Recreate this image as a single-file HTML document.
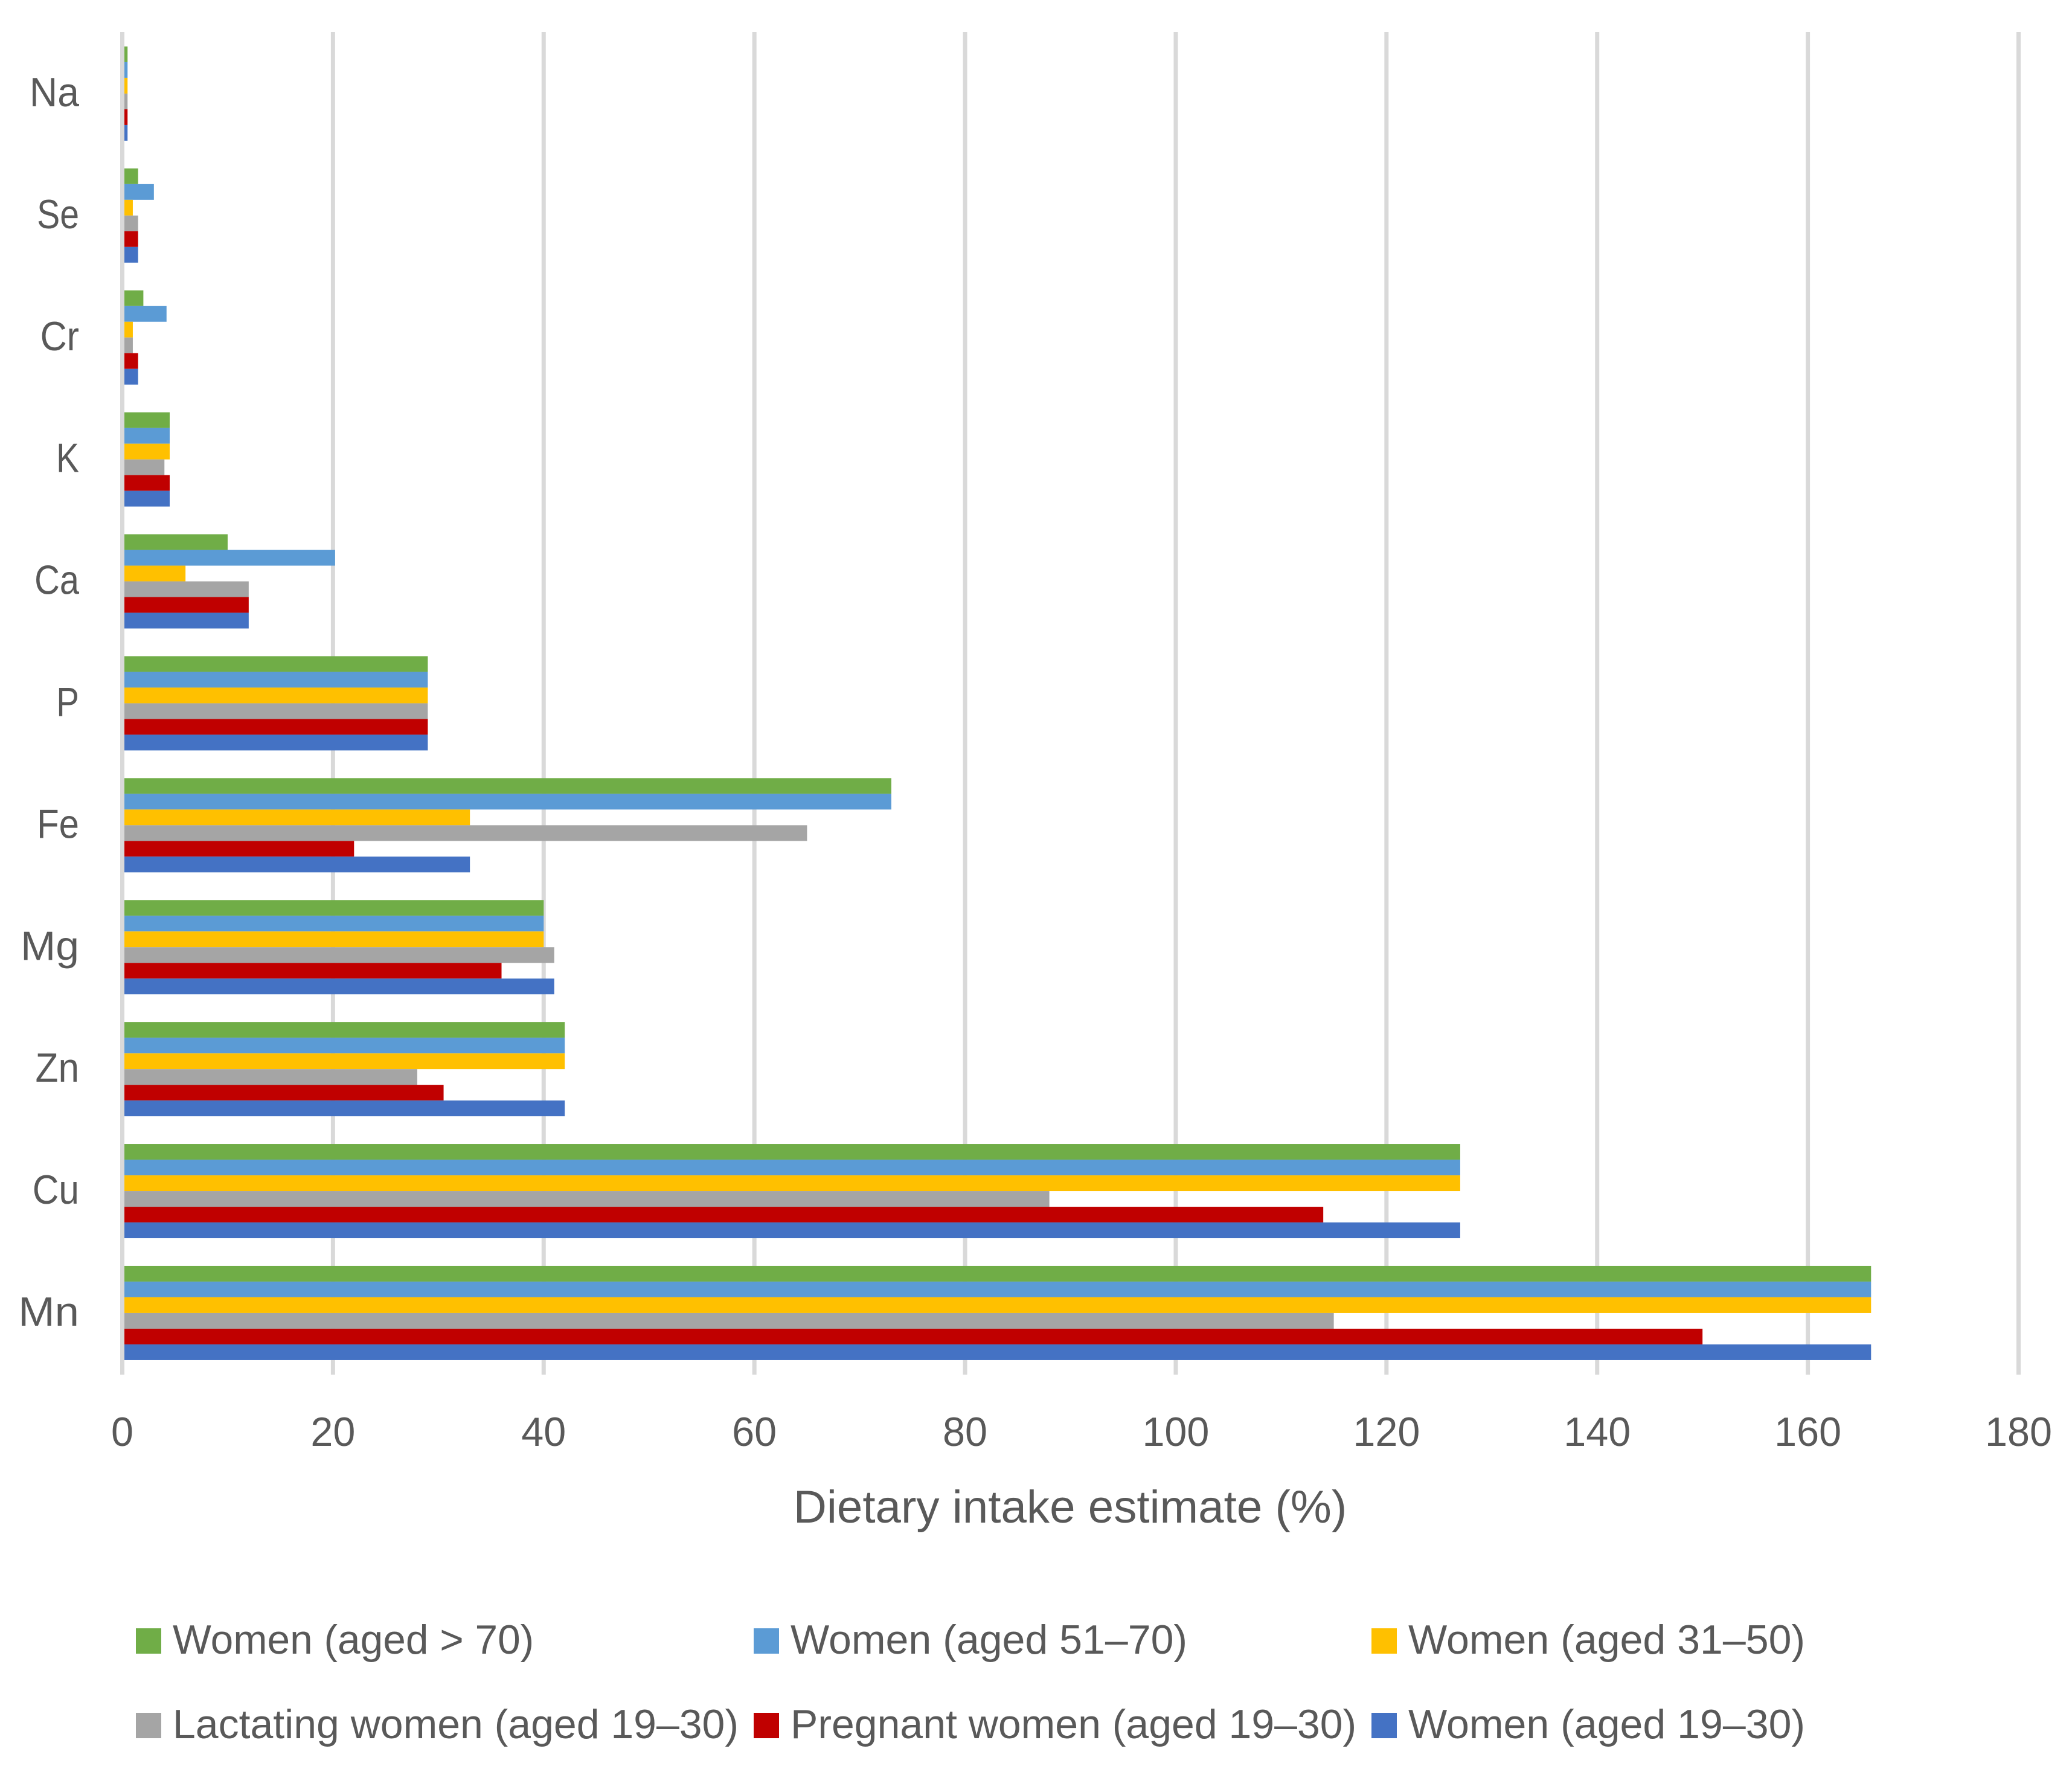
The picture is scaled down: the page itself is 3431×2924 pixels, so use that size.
<!DOCTYPE html>
<html lang="en">
<head>
<meta charset="utf-8">
<title>Dietary intake estimate by mineral</title>
<style>
html,body{margin:0;padding:0;background:#fff;}
svg{display:block;}
text{font-family:"Liberation Sans",sans-serif;fill:#595959;}
</style>
</head>
<body>
<svg id="chart" xmlns="http://www.w3.org/2000/svg" width="3431" height="2924" viewBox="0 0 3431 2924">
  <rect x="0" y="0" width="3431" height="2924" fill="#ffffff"/>
  <g id="grid"></g>
  <g id="bars"></g>
  <g id="yaxis"></g>
  <g id="xaxis"></g>
  <text id="xtitle" x="1772" y="2521" text-anchor="middle" font-size="76">Dietary intake estimate (%)</text>
  <g id="legend"></g>
</svg>
<script>
const categories = ["Na","Se","Cr","K","Ca","P","Fe","Mg","Zn","Cu","Mn"];
const womenOver70 = [0.5,1.5,2,4.5,10,29,73,40,42,127,166];
const women51to70 = [0.5,3,4.2,4.5,20.2,29,73,40,42,127,166];
const women31to50 = [0.5,1,1,4.5,6,29,33,40,42,127,166];
const lactating19to30 = [0.5,1.5,1,4,12,29,65,41,28,88,115];
const pregnant19to30 = [0.5,1.5,1.5,4.5,12,29,22,36,30.5,114,150];
const women19to30 = [0.5,1.5,1.5,4.5,12,29,33,41,42,127,166];
const xTickLabels = [0,20,40,60,80,100,120,140,160,180];
const seriesLabels = ["Women (aged > 70)","Women (aged 51–70)","Women (aged 31–50)","Lactating women (aged 19–30)","Pregnant women (aged 19–30)","Women (aged 19–30)"];
const seriesValues = [womenOver70,women51to70,women31to50,lactating19to30,pregnant19to30,women19to30];

const NS = "http://www.w3.org/2000/svg";
const seriesColors = ["#70AD47","#5B9BD5","#FFC000","#A5A5A5","#C00000","#4472C4"];
const seriesKeys = ["women-over-70","women-51-70","women-31-50","lactating-19-30","pregnant-19-30","women-19-30"];
const xMax = xTickLabels[xTickLabels.length - 1];
const gridHalf = 3.5;
const gridTop = 53;
const gridBottom = 2276;
const bandTop = 54;
const bandStep = 201.9;
const barH = 26;

function xScale(v){ return 202.5 + v * (3342.5 - 202.5) / xMax; }
function groupTop(i){ return bandTop + i * bandStep + (bandStep - barH * seriesValues.length) / 2; }

/* Advance widths that set each label's run length, so the substitute font occupies the reference's extent. */
const advance = {a:.479,c:.423,d:.525,e:.498,g:.471,i:.229,k:.455,l:.229,m:.799,n:.525,o:.527,r:.349,s:.391,t:.335,u:.525,w:.715,y:.453,
  C:.533,D:.615,F:.459,K:.52,L:.42,M:.855,N:.646,P:.517,S:.459,W:.89,Z:.468," ":.226,"(":.303,")":.303,"%":.715,">":.498,"–":.498};
function runLength(str, size){
  let w = 0;
  for (const ch of String(str)) {
    w += (ch >= "0" && ch <= "9") ? .507 : (advance[ch] || .5);
  }
  return w * size;
}
function fitText(el, str, size){
  el.setAttribute("textLength", runLength(str, size).toFixed(1));
  el.setAttribute("lengthAdjust", "spacingAndGlyphs");
}
function make(tag, attrs, parent){
  const el = document.createElementNS(NS, tag);
  for (const k in attrs) { el.setAttribute(k, attrs[k]); }
  parent.appendChild(el);
  return el;
}

const gridG = document.getElementById("grid");
const barsG = document.getElementById("bars");
const yG = document.getElementById("yaxis");
const xG = document.getElementById("xaxis");
const legendG = document.getElementById("legend");

xTickLabels.forEach(function(t){
  const line = make("rect", {x: xScale(t) - gridHalf, y: gridTop, width: gridHalf * 2, height: gridBottom - gridTop, fill: "#D9D9D9"}, gridG);
  
  
  const label = make("text", {x: xScale(t), y: 2394, "text-anchor": "middle", "font-size": 67.5}, xG);
  
  
  label.textContent = t;
  fitText(label, t, 73);
});

categories.forEach(function(c, i){
  const label = make("text", {x: 131, y: groupTop(i) + 99, "text-anchor": "end", "font-size": 67.5}, yG);
  
  
  label.textContent = c;
  fitText(label, c, 73);
  seriesValues.forEach(function(vals, s){
    const bar = make("rect", {
      x: xScale(0) + gridHalf,
      y: groupTop(i) + s * barH,
      width: Math.max(0, xScale(vals[i]) - xScale(0) - gridHalf),
      height: barH,
      fill: seriesColors[s]
    }, barsG);
    
    
  });
});

const legendSwatchX = [225, 1248, 2271];
const legendTextX = [286, 1309, 2332];
const legendBaseline = [2738, 2878];
seriesLabels.forEach(function(name, s){
  const col = s % 3;
  const row = Math.floor(s / 3);
  const swatch = make("rect", {x: legendSwatchX[col], y: legendBaseline[row] - 42, width: 42, height: 42, fill: seriesColors[s]}, legendG);
  
  
  const label = make("text", {x: legendTextX[col], y: legendBaseline[row], "font-size": 67.5}, legendG);
  
  
  label.textContent = name;
  fitText(label, name, 74.7);
});

const titleEl = document.getElementById("xtitle");
fitText(titleEl, titleEl.textContent, 83);
</script>
</body>
</html>
